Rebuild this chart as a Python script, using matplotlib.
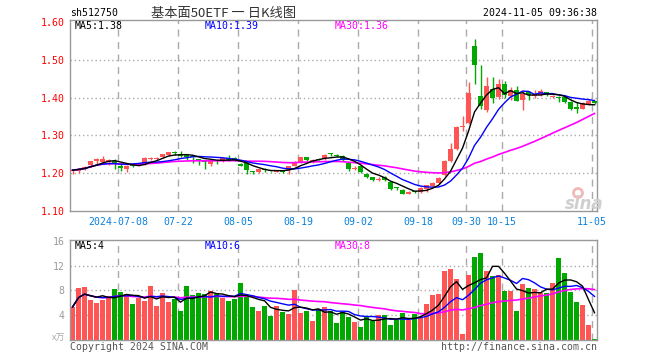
import numpy as np
import pandas as pd
import matplotlib
matplotlib.use("Agg")
import matplotlib.pyplot as plt
from matplotlib.patches import Ellipse

# trading days shown (holidays removed)
holidays = ["2024-09-16", "2024-09-17", "2024-10-01", "2024-10-02",
            "2024-10-03", "2024-10-04", "2024-10-07"]
days = [d.strftime("%Y-%m-%d") for d in pd.bdate_range("2024-06-26", "2024-11-05")]
days = [d for d in days if d not in holidays]

opens = [1.205, 1.206, 1.210, 1.221, 1.231, 1.229, 1.229, 1.233, 1.218, 1.211,
         1.220, 1.220, 1.225, 1.237, 1.238, 1.242, 1.247, 1.255, 1.252, 1.248,
         1.243, 1.235, 1.232, 1.225, 1.232, 1.232, 1.237, 1.240, 1.224, 1.226,
         1.204, 1.202, 1.211, 1.206, 1.203, 1.206, 1.208, 1.220, 1.230, 1.242,
         1.232, 1.238, 1.237, 1.252, 1.249, 1.245, 1.228, 1.212, 1.218, 1.199,
         1.190, 1.182, 1.189, 1.177, 1.162, 1.155, 1.146, 1.151, 1.151, 1.159,
         1.166, 1.173, 1.194, 1.233, 1.263, 1.322, 1.334, 1.536, 1.405, 1.368,
         1.424, 1.401, 1.435, 1.405, 1.420, 1.393, 1.416, 1.404, 1.406, 1.414,
         1.402, 1.402, 1.402, 1.389, 1.375, 1.371, 1.383, 1.391]
highs = [1.211, 1.213, 1.219, 1.232, 1.241, 1.245, 1.237, 1.237, 1.224, 1.221,
         1.221, 1.226, 1.242, 1.243, 1.243, 1.251, 1.257, 1.260, 1.259, 1.252,
         1.244, 1.236, 1.234, 1.238, 1.234, 1.241, 1.249, 1.243, 1.227, 1.229,
         1.206, 1.212, 1.214, 1.207, 1.209, 1.207, 1.220, 1.232, 1.244, 1.244,
         1.238, 1.240, 1.250, 1.254, 1.250, 1.247, 1.230, 1.220, 1.219, 1.200,
         1.191, 1.189, 1.192, 1.178, 1.163, 1.157, 1.152, 1.152, 1.163, 1.170,
         1.176, 1.190, 1.235, 1.281, 1.325, 1.351, 1.441, 1.554, 1.486, 1.455,
         1.455, 1.450, 1.443, 1.428, 1.430, 1.420, 1.418, 1.419, 1.422, 1.416,
         1.406, 1.403, 1.404, 1.390, 1.389, 1.388, 1.397, 1.392]
lows = [1.199, 1.201, 1.208, 1.217, 1.224, 1.226, 1.223, 1.212, 1.206, 1.204,
        1.217, 1.218, 1.222, 1.234, 1.236, 1.240, 1.245, 1.247, 1.242, 1.236,
        1.226, 1.221, 1.212, 1.219, 1.224, 1.230, 1.231, 1.232, 1.218, 1.197,
        1.199, 1.200, 1.204, 1.203, 1.202, 1.200, 1.199, 1.218, 1.228, 1.232,
        1.228, 1.234, 1.235, 1.245, 1.243, 1.233, 1.205, 1.208, 1.200, 1.186,
        1.180, 1.180, 1.179, 1.155, 1.155, 1.144, 1.145, 1.147, 1.148, 1.151,
        1.164, 1.171, 1.192, 1.229, 1.262, 1.311, 1.330, 1.435, 1.370, 1.362,
        1.386, 1.396, 1.399, 1.393, 1.390, 1.367, 1.393, 1.400, 1.404, 1.403,
        1.400, 1.389, 1.387, 1.368, 1.358, 1.369, 1.381, 1.384]
closes = [1.208, 1.212, 1.217, 1.231, 1.238, 1.237, 1.234, 1.226, 1.213, 1.220,
          1.218, 1.224, 1.240, 1.241, 1.241, 1.250, 1.255, 1.253, 1.245, 1.243,
          1.242, 1.234, 1.230, 1.236, 1.231, 1.240, 1.236, 1.233, 1.220, 1.209,
          1.203, 1.210, 1.209, 1.205, 1.207, 1.202, 1.218, 1.230, 1.242, 1.236,
          1.234, 1.236, 1.248, 1.250, 1.246, 1.235, 1.211, 1.215, 1.204, 1.189,
          1.182, 1.185, 1.181, 1.158, 1.160, 1.146, 1.149, 1.149, 1.161, 1.168,
          1.174, 1.188, 1.233, 1.263, 1.322, 1.326, 1.413, 1.487, 1.378, 1.430,
          1.400, 1.436, 1.407, 1.419, 1.392, 1.409, 1.406, 1.409, 1.418, 1.407,
          1.404, 1.400, 1.389, 1.371, 1.371, 1.386, 1.391, 1.386]
volumes = [5.33, 8.37, 8.53, 6.4, 5.97, 6.5, 7.04, 8.2, 7.73, 7.36,
           5.8, 6.77, 6.3, 8.8, 5.5, 7.57, 6.13, 6.67, 4.7, 8.8,
           7.2, 7.57, 7.4, 7.84, 7.47, 6.83, 6.3, 6.6, 9.17, 7.04,
           5.33, 4.7, 5.44, 3.9, 5.44, 4.53, 4.2, 8.0, 4.37, 4.7,
           3.1, 4.96, 5.33, 4.64, 2.77, 4.53, 3.73, 2.93, 2.13, 3.84,
           3.1, 4.0, 4.0, 2.4, 3.3, 4.37, 3.3, 4.16, 3.73, 5.76,
           7.2, 7.36, 11.2, 11.5, 9.9, 0.96, 10.45, 13.44, 14.08, 11.2,
           10.35, 10.45, 7.84, 7.84, 4.7, 9.07, 8.48, 8.32, 7.57, 7.57,
           9.17, 13.33, 10.77, 7.68, 6.13, 5.6, 2.4, 0.2]

tick_days = ["2024-07-08", "2024-07-22", "2024-08-05", "2024-08-19", "2024-09-02",
             "2024-09-18", "2024-09-30", "2024-10-15", "2024-11-05"]
tick_labels = ["2024-07-08", "07-22", "08-05", "08-19", "09-02",
               "09-18", "09-30", "10-15", "11-05"]

RED = "#ff5555"
GREEN = "#00a800"
GRID = "#aaaaaa"
W, H = 660, 360
mono = "DejaVu Sans Mono"

o = np.array(opens); h = np.array(highs); l = np.array(lows); c = np.array(closes)
v = np.array(volumes)
x = np.arange(len(days))
cols = [RED if cc >= oo else GREEN for oo, cc in zip(o, c)]
cpos = x + 0.42

def rect(x0, y0, x1, y1):
    return [x0 / W, 1 - y1 / H, (x1 - x0) / W, (y1 - y0) / H]

def px(xp, yp):
    return xp / W, 1 - yp / H

fig = plt.figure(figsize=(6.6, 3.6), dpi=100)
ax = fig.add_axes(rect(70, 20, 597, 211))
axv = fig.add_axes(rect(70, 240, 597, 340))

tpos = [days.index(d) for d in tick_days]

for a in (ax, axv):
    for s in a.spines.values():
        s.set_color("#999999")
        s.set_linewidth(1)
    for t in tpos:
        a.axvline(t, color=GRID, lw=1, ls=(0, (5, 4)), zorder=0)
    a.set_xlim(0, 87.83)

# price panel
for yv in [1.2, 1.3, 1.4, 1.5]:
    ax.axhline(yv, color=GRID, lw=1, ls=(0, (1, 2)), zorder=0)
ax.vlines(cpos, l, h, colors=cols, lw=1, zorder=2)
body = np.maximum(np.abs(c - o), 0.0028)
ax.bar(x, body, bottom=np.minimum(o, c), width=0.83, align="edge",
       color=cols, zorder=3)
cs = pd.Series(c)
ax.plot(cpos, cs.rolling(30, min_periods=1).mean(), color="#ff00ff", lw=1.2, zorder=4)
ax.plot(cpos, cs.rolling(10, min_periods=1).mean(), color="#0000ff", lw=1, zorder=4)
ax.plot(cpos, cs.rolling(5, min_periods=1).mean(), color="black", lw=1, zorder=4)
ax.set_ylim(1.10, 1.6053)
ax.set_yticks([1.10, 1.20, 1.30, 1.40, 1.50, 1.60])
ax.set_yticklabels(["%.2f" % t for t in ax.get_yticks()], color="red",
                   family=mono, fontsize=7.1)
ax.set_xticks(tpos)
ax.set_xticklabels(tick_labels, color="#0a80dc", family=mono, fontsize=7.1)
ax.tick_params(length=0, pad=4)

# volume panel
for yv in [4, 8, 12]:
    axv.axhline(yv, color=GRID, lw=1, ls=(0, (1, 2)), zorder=0)
axv.bar(x, v, width=0.83, align="edge", color=cols, zorder=2)
vs = pd.Series(v)
axv.plot(cpos, vs.rolling(30, min_periods=1).mean(), color="#ff00ff", lw=1.2, zorder=4)
axv.plot(cpos, vs.rolling(10, min_periods=1).mean(), color="#0000ff", lw=1, zorder=4)
axv.plot(cpos, vs.rolling(5, min_periods=1).mean(), color="black", lw=1, zorder=4)
axv.set_ylim(0, 16.16)
axv.set_yticks([4, 8, 12, 16])
axv.set_yticklabels(["4", "8", "12", "16"], color="#999999", family=mono, fontsize=7.1)
axv.set_xticks([])
axv.tick_params(length=0, pad=4)

# texts
fig.text(*px(70, 13), "sh512750", family=mono, fontsize=7.1, va="center", ha="left")
fig.text(*px(224, 13), "基本面50ETF 一 日K线图", family=["Noto Sans CJK SC", "DejaVu Sans"],
         fontsize=9.5, color="#333333", va="center", ha="center")
fig.text(*px(597, 13), "2024-11-05 09:36:38", family=mono, fontsize=7.1,
         va="center", ha="right")
fig.text(*px(75, 26), "MA5:1.38", family=mono, fontsize=7.1, va="center", color="black")
fig.text(*px(205, 26), "MA10:1.39", family=mono, fontsize=7.1, va="center", color="#0000ff")
fig.text(*px(335, 26), "MA30:1.36", family=mono, fontsize=7.1, va="center", color="#ff00ff")
fig.text(*px(75, 246), "MA5:4", family=mono, fontsize=7.1, va="center", color="black")
fig.text(*px(205, 246), "MA10:6", family=mono, fontsize=7.1, va="center", color="#0000ff")
fig.text(*px(335, 246), "MA30:8", family=mono, fontsize=7.1, va="center", color="#ff00ff")
fig.text(*px(65, 338), "x万", family=["Noto Sans CJK SC", "DejaVu Sans"], fontsize=6.5,
         color="#aaaaaa", va="center", ha="right")
fig.text(*px(70, 347), "Copyright 2024 SINA.COM", family=mono, fontsize=7.1,
         color="#555555", va="center", ha="left")
fig.text(*px(597, 347), "http://finance.sina.com.cn", family=mono, fontsize=7.1,
         color="#555555", va="center", ha="right")

# sina watermark
fig.add_artist(Ellipse(px(578, 193), 9 / W, 9 / H, transform=fig.transFigure,
                       fill=False, ec="#f2b8b8", lw=2))
fig.text(*px(584, 204), "sina", fontsize=12, fontweight="bold", style="italic",
         color="#cfcfcf", va="center", ha="center")

fig.savefig("out.png", dpi=100)
